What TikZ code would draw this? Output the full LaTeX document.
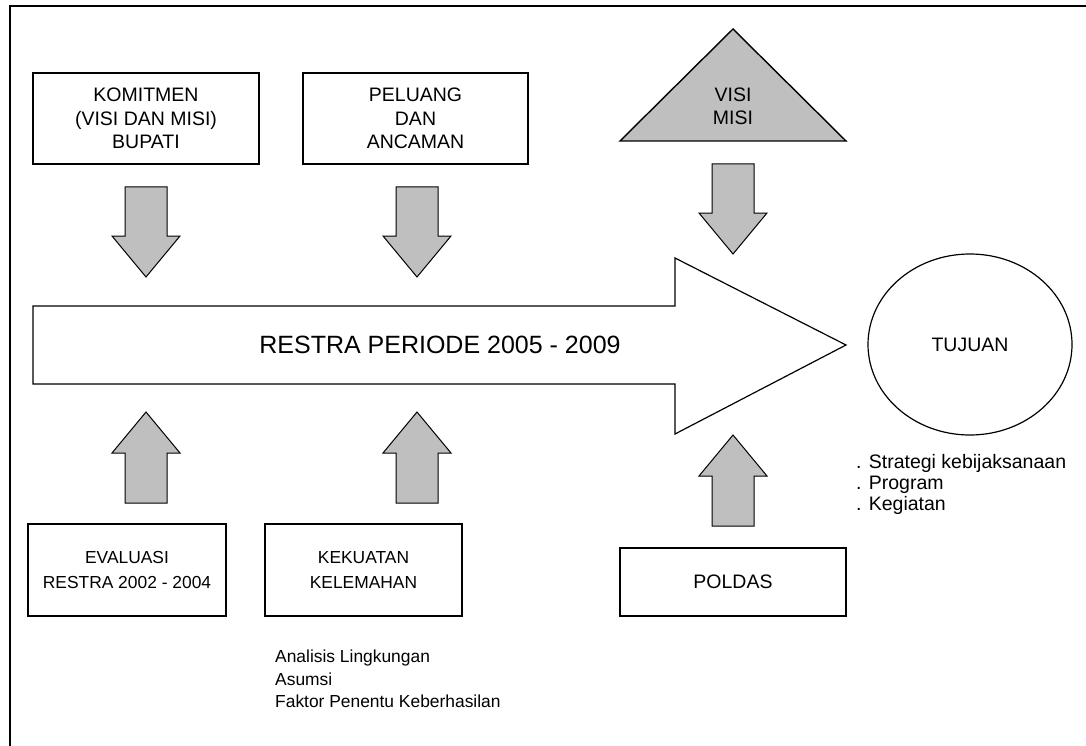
\documentclass[tikz,border=0pt]{standalone}
\usepackage{fontspec}
\setmainfont{Liberation Sans}
\begin{document}
\begin{tikzpicture}[x=1pt,y=-1pt,
  box/.style={draw=black,line width=1.4pt,fill=white,inner sep=0pt,align=center},
  blockarrow/.style={draw=black,line width=1pt,fill=black!25,line join=miter},
  bigfont/.style={font=\fontsize{19.5}{23.5}\selectfont},
  midfont/.style={font=\fontsize{17.4}{24.5}\selectfont},
  plain/.style={inner sep=0pt,align=left},
  downarr/.pic={\draw[blockarrow] (-21,0) -- (21,0) -- (21,49) -- (34,49) -- (0,90) -- (-34,49) -- (-21,49) -- cycle;},
  uparr/.pic={\draw[blockarrow] (0,0) -- (34,41) -- (21,41) -- (21,91) -- (-21,91) -- (-21,41) -- (-34,41) -- cycle;}
]
\useasboundingbox (0,0) rectangle (1086,746);
% frame (top and left only)
\draw[line width=2pt] (10,760) -- (10,6) -- (1100,6);

% top boxes
\node[box,bigfont,minimum width=226pt,minimum height=91pt] (kom) at (146,118.5) {KOMITMEN\\(VISI DAN MISI)\\BUPATI};
\node[box,bigfont,minimum width=225pt,minimum height=91pt] (pel) at (415.5,118.5) {PELUANG\\DAN\\ANCAMAN};

% triangle
\draw[blockarrow,line width=1.4pt] (733,29) -- (846,141) -- (620,141) -- cycle;
\node[bigfont,align=center,inner sep=0pt] (visi) at (733,106.5) {VISI\\MISI};

% big arrow
\draw[line width=1.2pt,fill=white,line join=miter] (33,306) -- (675,306) -- (675,258) -- (846,345) -- (675,434) -- (675,384) -- (33,384) -- cycle;
\node[font=\fontsize{25}{30}\selectfont,inner sep=0pt] (restra) at (440,345) {RESTRA PERIODE 2005 - 2009};

% ellipse
\draw[line width=1.2pt] (970,344.5) ellipse [x radius=102, y radius=90.5];
\node[bigfont,inner sep=0pt] (tujuan) at (970,345) {TUJUAN};

% bullets
\node[plain,anchor=north west,font=\fontsize{19.5}{21}\selectfont] (bul) at (856,454) {. Strategi kebijaksanaan\\. Program\\. Kegiatan};

% bottom boxes
\node[box,midfont,minimum width=198pt,minimum height=92pt] (eva) at (127,570) {EVALUASI\\RESTRA 2002 - 2004};
\node[box,midfont,minimum width=197pt,minimum height=92pt] (kek) at (363.5,570) {KEKUATAN\\KELEMAHAN};
\node[box,bigfont,minimum width=226pt,minimum height=68pt] (pol) at (733,582) {POLDAS};

\node[plain,anchor=north west,font=\fontsize{17.4}{22.5}\selectfont] (ana) at (275,650) {Analisis Lingkungan\\Asumsi\\Faktor Penentu Keberhasilan};

% block arrows
\pic at (146,187) {downarr};
\pic at (417,187) {downarr};
\pic at (733,164) {downarr};
\pic at (146,412) {uparr};
\pic at (417,412) {uparr};
\pic at (733,435) {uparr};
\end{tikzpicture}
\end{document}
